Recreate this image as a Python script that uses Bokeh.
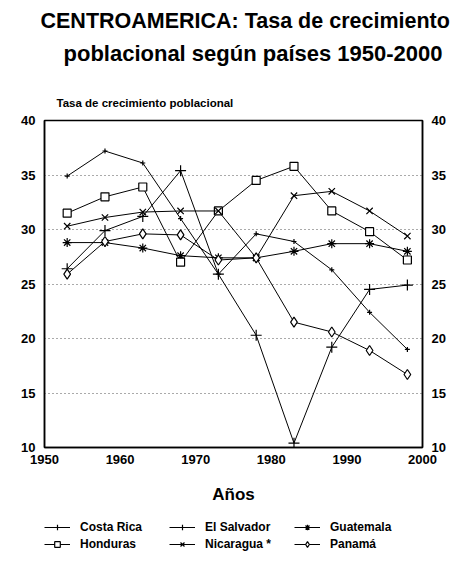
from bokeh.plotting import figure
from bokeh.layouts import column
from bokeh.models import (LinearAxis, Title, Legend, LegendItem, FixedTicker,
                          Range1d, ColumnDataSource)
from bokeh.embed import file_html
from bokeh.resources import INLINE

# ---- data ----
years = [1953, 1958, 1963, 1968, 1973, 1978, 1983, 1988, 1993, 1998]
costa_rica  = [34.9, 37.2, 36.1, 31.0, 25.9, 29.6, 28.9, 26.3, 22.4, 19.0]
el_salvador = [26.4, 29.9, 31.2, 35.4, 25.9, 20.3, 10.4, 19.2, 24.5, 24.9]
guatemala   = [28.8, 28.8, 28.3, 27.6, 27.4, 27.4, 28.0, 28.7, 28.7, 28.0]
honduras    = [31.5, 33.0, 33.9, 27.0, 31.7, 34.5, 35.8, 31.7, 29.8, 27.2]
nicaragua   = [30.3, 31.1, 31.6, 31.7, 31.7, 27.4, 33.1, 33.5, 31.7, 29.4]
panama      = [25.9, 28.9, 29.6, 29.5, 27.2, 27.4, 21.5, 20.6, 18.9, 16.7]

x_ticks = [1950, 1960, 1970, 1980, 1990, 2000]
y_ticks = [10, 15, 20, 25, 30, 35, 40]

series = [
    ("Costa Rica", costa_rica, "cross", 5, None),
    ("El Salvador", el_salvador, "cross", 11, None),
    ("Guatemala", guatemala, "asterisk", 9, None),
    ("Honduras", honduras, "square", 8, "white"),
    ("Nicaragua *", nicaragua, "x", 9, None),
    ("Panamá", panama, "diamond", 10, "white"),
]

FONT = "Liberation Sans"

p = figure(output_backend="svg", toolbar_location=None,
           x_range=Range1d(1950, 2000), y_range=Range1d(10, 40),
           frame_width=378, frame_height=327,
           min_border_left=44, min_border_right=33, min_border_top=0,
           min_border_bottom=0, background_fill_color="white",
           border_fill_color="white")
p.outline_line_color = "black"
p.outline_line_width = 1.5

# legend-only figure (the data lie outside its ranges, only the legend shows)
lf = figure(output_backend="svg", toolbar_location=None,
            frame_width=455, frame_height=58,
            x_range=Range1d(0, 1), y_range=Range1d(0, 1),
            x_axis_type=None, y_axis_type=None,
            min_border_left=0, min_border_right=0, min_border_top=0,
            min_border_bottom=0, outline_line_color=None,
            background_fill_color="white", border_fill_color="white")
lf.grid.visible = False

items = []
for name, vals, marker, size, fill in series:
    src = ColumnDataSource(dict(x=years, y=vals))
    p.line("x", "y", source=src, line_color="black", line_width=1)
    p.scatter("x", "y", source=src, marker=marker, size=size,
              line_color="black", line_width=1.2,
              fill_color=fill if fill else "black")
    l = lf.line("x", "y", source=src, line_color="black", line_width=1)
    m = lf.scatter("x", "y", source=src, marker=marker, size=size,
                   line_color="black", line_width=1.2,
                   fill_color=fill if fill else "black")
    items.append(LegendItem(label=name, renderers=[l, m]))

# axes
p.xaxis.ticker = FixedTicker(ticks=x_ticks)
p.yaxis.ticker = FixedTicker(ticks=y_ticks)
ra = LinearAxis(ticker=FixedTicker(ticks=y_ticks))
p.add_layout(ra, "right")
for ax in [p.xaxis[0], p.yaxis[0], ra]:
    ax.major_tick_out = 0
    ax.major_tick_in = 0
    ax.minor_tick_out = 0
    ax.minor_tick_in = 0
    ax.axis_line_color = "black"
    ax.axis_line_width = 1.5
    ax.major_label_text_font = FONT
    ax.major_label_text_font_style = "bold"
    ax.major_label_text_font_size = "13px"
    ax.major_label_text_color = "black"
p.yaxis[0].major_label_standoff = 9
ra.major_label_standoff = 9
p.xaxis.major_label_standoff = 7
p.xaxis.axis_label = "Años"
p.xaxis.axis_label_text_font = FONT
p.xaxis.axis_label_text_font_style = "bold"
p.xaxis.axis_label_text_font_size = "17px"
p.xaxis.axis_label_text_color = "black"
p.xaxis.axis_label_standoff = 18

p.xgrid.visible = False
p.ygrid.ticker = FixedTicker(ticks=[15, 20, 25, 30, 35])
p.ygrid.grid_line_color = "#555555"
p.ygrid.grid_line_dash = "1 3"
p.ygrid.grid_line_width = 1

# titles (closest to frame first)
p.add_layout(Title(text="Tasa de crecimiento poblacional", align="left",
                   offset=12, text_font=FONT, text_font_style="bold",
                   text_font_size="11.5px", text_color="black",
                   standoff=23), "above")
p.add_layout(Title(text="poblacional según países 1950-2000", align="left",
                   offset=19, text_font=FONT, text_font_style="bold",
                   text_font_size="22px", text_color="black",
                   standoff=35), "above")
p.add_layout(Title(text="CENTROAMERICA: Tasa de crecimiento", align="left",
                   offset=-4, text_font=FONT, text_font_style="bold",
                   text_font_size="21.5px", text_color="black",
                   standoff=-23), "above")
p.add_layout(Title(text=" ", text_font_size="14px", standoff=0), "above")

legend = Legend(items=items, orientation="horizontal", ncols=3,
                location=(44, 13), label_text_font=FONT,
                label_text_font_style="bold", label_text_font_size="12px",
                label_text_color="black", label_width=86, label_height=14,
                glyph_width=26, glyph_height=14, spacing=3, padding=0,
                label_standoff=10, border_line_color=None,
                background_fill_alpha=0, margin=0)
lf.add_layout(legend, "center")

open("out.html", "w").write(file_html(column(p, lf, spacing=0), INLINE))
